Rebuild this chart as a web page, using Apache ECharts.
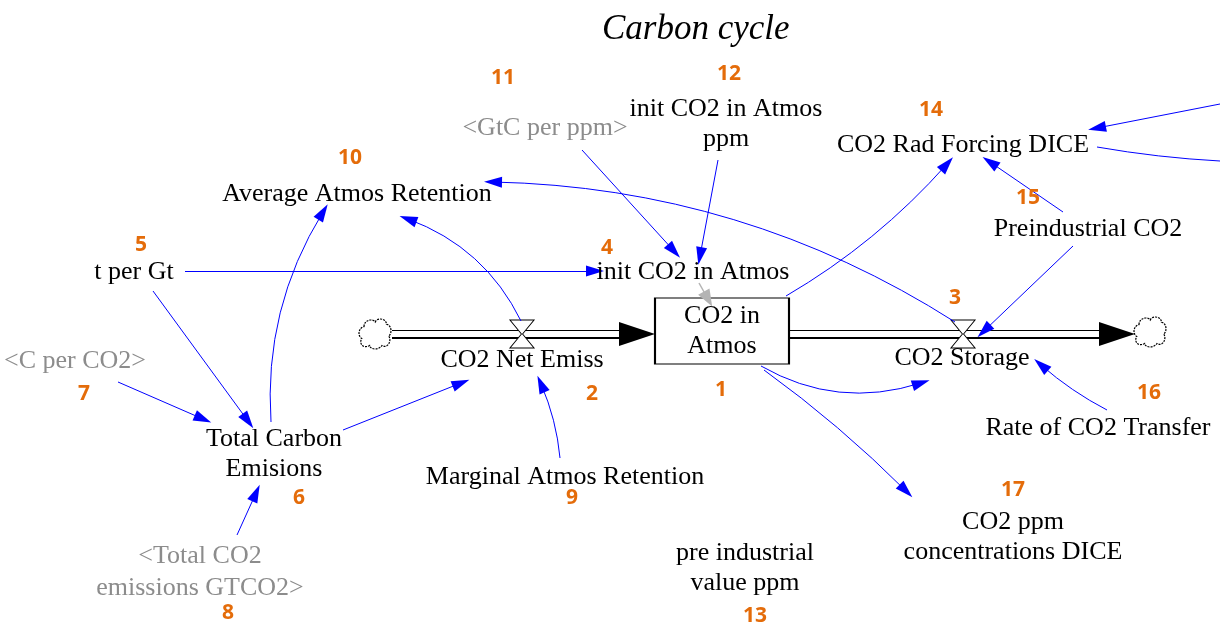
<!DOCTYPE html>
<html><head><meta charset="utf-8">
<script src="https://cdn.jsdelivr.net/npm/echarts@6/dist/echarts.min.js"></script>
<style>html,body{margin:0;padding:0;background:#fff}#c{width:1220px;height:628px}</style>
</head><body><div id="c"></div>
<script>
// ---- diagram data (diagram units = picture layout) ----
const titleText = 'Carbon cycle';
const varLabels = ['init CO2 in Atmos\nppm','CO2 Rad Forcing DICE','Average Atmos Retention','Preindustrial CO2','t per Gt','init CO2 in Atmos','CO2 Net Emiss','CO2 Storage','Rate of CO2 Transfer','Total Carbon\nEmisions','Marginal Atmos Retention','CO2 ppm\nconcentrations DICE','pre industrial\nvalue ppm'];
const varX = [726,963,357,1088,134,693,522,962,1098,274,565,1013,745];
const varY = [124,145,194,229,272,272,360,358,428,454,477,537,568];
const shadowLabels = ['<GtC per ppm>','<C per CO2>','<Total CO2\nemissions GTCO2>'];
const shadowX = [545,75,200];
const shadowY = [128,361,572];
const stockLabel = 'CO2 in\nAtmos';
const stockX = [722];
const stockY = [331];
const numLabels = ['1','2','3','4','5','6','7','8','9','10','11','12','13','14','15','16','17'];
const numX = [721,592,955,607,141,299,84,228,572,350,503,729,755,931,1028,1149,1013];
const numY = [390,394,298,248,245,498,394,613,498,158,78,74,616,110,198,393,490];
const valveX = [522,963];
const valveY = [334,334];
const cloudX = [375,1150];
const cloudY = [334,332];
// flow pipes: from -> to
const pipeFrom = [[392,334],[790,334]];
const pipeTo = [[630,334],[1110,334]];
const pipeHeadX = [637,1117];
const pipeHeadY = [334,334];
// causal links: [x1,y1,x2,y2,curveness]
const links = [
 [185,271,595,271,0],
 [153,291,248,421,0],
 [118,382,203,419,0],
 [237,535,256,493,0],
 [271,422,323,212,0.16],
 [343,430,461,383,0],
 [560,458,541,384,-0.08],
 [521,321,408,219,-0.2],
 [955,322,493,182,-0.14],
 [582,150,674,251,0],
 [718,160,700,256,0],
 [786,296,947,164,-0.08],
 [1063,212,990,162,0],
 [1073,246,984,331,0],
 [1107,410,1041,365,0.06],
 [761,366,921,383,-0.22],
 [764,370,906,491,0.04],
 [1220,104,1097,128,0]
];
const grayLinks = [[699,283,708,299,0]];
const plainLinks = [[1097,147,1220,161,-0.03]];

const serif = 'Liberation Serif';
const FS = 26;
const cloudPath = 'path://M6,8 C6,2 14,1 16,4 C18,0 26,1 26,6 C31,7 31,14 28,16 C31,20 27,27 22,24 C19,28 12,28 11,24 C6,27 1,23 4,18 C0,16 1,9 6,8 Z';
const valvePath = 'path://M0,0 L24,0 L12.6,14 L24,28 L0,28 L11.4,14 Z';

function pts(xs, ys, labels){ return xs.map((x,i)=>({value:[x, ys[i]], name: labels ? labels[i] : ''})); }
function linkData(arr){ return arr.map(l=>({coords:[[l[0],l[1]],[l[2],l[3]]], lineStyle:{curveness:l[4]}})); }

const chart = echarts.init(document.getElementById('c'), null, {renderer:'canvas'});
chart.setOption({
  animation:false,
  title:{text:titleText, left:597, top:7, textStyle:{fontFamily:serif, fontStyle:'italic', fontWeight:'normal', fontSize:35, color:'#000'}},
  grid:{left:0,right:0,top:0,bottom:0},
  xAxis:{type:'value', min:0, max:1220, show:false},
  yAxis:{type:'value', min:0, max:628, inverse:true, show:false},
  series:[
    {type:'lines', coordinateSystem:'cartesian2d', z:2, silent:true,
     data: pipeFrom.map((p,i)=>({coords:[p, pipeTo[i]]})),
     lineStyle:{color:'#000', width:9, opacity:1}, symbol:['none','none']},
    {type:'lines', coordinateSystem:'cartesian2d', z:3, silent:true,
     data: pipeFrom.map((p,i)=>({coords:[[p[0]-2,p[1]],[pipeTo[i][0]-8,pipeTo[i][1]]]})),
     lineStyle:{color:'#fff', width:6, opacity:1}, symbol:['none','none']},
    {type:'scatter', z:4, silent:true, data: pts(pipeHeadX, pipeHeadY),
     symbol:'triangle', symbolSize:[24,36], symbolRotate:-90, itemStyle:{color:'#000', opacity:1}},
    {type:'scatter', z:5, silent:true, data: pts(stockX, stockY, [stockLabel]),
     symbol:'rect', symbolSize:[134,66], itemStyle:{color:'#fff', borderColor:'#000', borderWidth:1.5, opacity:1},
     label:{show:true, position:'inside', formatter:'{b}', fontFamily:serif, fontSize:FS, color:'#000', lineHeight:30}},
    {type:'scatter', z:5, silent:true, data: pts(valveX, valveY),
     symbol:valvePath, symbolSize:[24,28], itemStyle:{color:'#fff', borderColor:'#000', borderWidth:1, opacity:1}},
    {type:'scatter', z:5, silent:true, data: pts(cloudX, cloudY),
     symbol:cloudPath, symbolSize:[32,30], itemStyle:{color:'#fff', borderColor:'#000', borderWidth:1.2, borderType:[2,1], opacity:1}},
    {type:'lines', coordinateSystem:'cartesian2d', z:6, silent:true, data: linkData(links),
     lineStyle:{color:'#0000ff', width:1, opacity:1},
     symbol:['none','triangle'], symbolSize:[[1,1],[11,18]], symbolOffset:[0,[0,9]]},
    {type:'lines', coordinateSystem:'cartesian2d', z:6, silent:true, data: linkData(grayLinks),
     lineStyle:{color:'#b4b4b4', width:1.5, opacity:1},
     symbol:['none','triangle'], symbolSize:[[1,1],[13,17]], symbolOffset:[0,[0,8]]},
    {type:'lines', coordinateSystem:'cartesian2d', z:6, silent:true, data: linkData(plainLinks),
     lineStyle:{color:'#0000ff', width:1, opacity:1}, symbol:['none','none']},
    {type:'scatter', z:7, silent:true, data: pts(varX, varY, varLabels), symbolSize:0, itemStyle:{opacity:1},
     label:{show:true, position:'inside', formatter:'{b}', fontFamily:serif, fontSize:FS, color:'#000', lineHeight:30}},
    {type:'scatter', z:7, silent:true, data: pts(shadowX, shadowY, shadowLabels), symbolSize:0, itemStyle:{opacity:1},
     label:{show:true, position:'inside', formatter:'{b}', fontFamily:serif, fontSize:FS, color:'#8c8c8c', lineHeight:32}},
    {type:'scatter', z:7, silent:true, data: pts(numX, numY, numLabels), symbolSize:0, itemStyle:{opacity:1},
     label:{show:true, position:'inside', formatter:'{b}', fontFamily:'Open Sans', fontWeight:'bold', fontSize:21, color:'#e46c0a'}}
  ]
});
</script></body></html>
